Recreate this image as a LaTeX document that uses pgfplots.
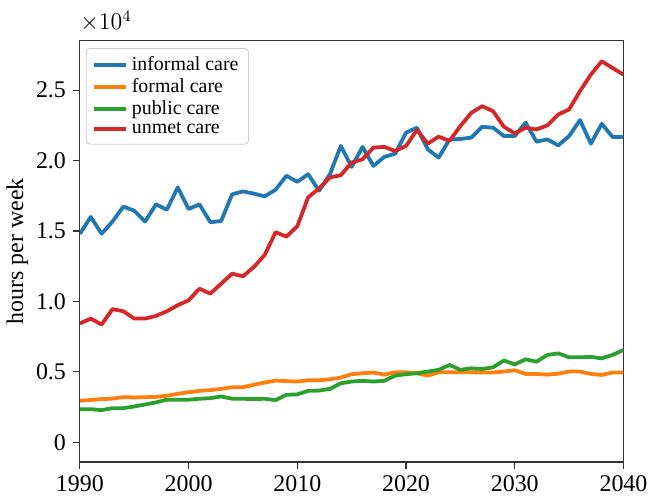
\documentclass[border=0pt]{standalone}
\usepackage{fontspec}
\setmainfont{Liberation Serif}
\usepackage{pgfplots}
\usepackage{pgfplotstable}
\pgfplotsset{compat=1.18}
\definecolor{tblue}{HTML}{1F77B4}
\definecolor{torange}{HTML}{FF7F0E}
\definecolor{tgreen}{HTML}{2CA02C}
\definecolor{tred}{HTML}{D62728}
\pgfplotstableread{
year informal formal public unmet
1990 1.48 0.295 0.235 0.843
1991 1.60 0.300 0.235 0.878
1992 1.48 0.306 0.228 0.836
1993 1.567 0.310 0.242 0.945
1994 1.673 0.320 0.242 0.930
1995 1.644 0.318 0.254 0.878
1996 1.567 0.320 0.268 0.878
1997 1.689 0.322 0.283 0.897
1998 1.651 0.330 0.302 0.930
1999 1.809 0.344 0.302 0.973
2000 1.656 0.355 0.302 1.008
2001 1.689 0.365 0.309 1.090
2002 1.562 0.370 0.313 1.055
2003 1.571 0.379 0.325 1.126
2004 1.760 0.391 0.309 1.197
2005 1.781 0.391 0.309 1.178
2006 1.765 0.408 0.306 1.244
2007 1.746 0.424 0.309 1.330
2008 1.793 0.438 0.299 1.491
2009 1.892 0.434 0.337 1.460
2010 1.849 0.431 0.340 1.534
2011 1.903 0.440 0.365 1.739
2012 1.786 0.440 0.367 1.802
2013 1.903 0.447 0.379 1.880
2014 2.104 0.459 0.419 1.896
2015 1.955 0.483 0.431 1.986
2016 2.097 0.490 0.436 2.009
2017 1.962 0.495 0.431 2.092
2018 2.026 0.480 0.436 2.097
2019 2.049 0.497 0.473 2.068
2020 2.198 0.497 0.483 2.104
2021 2.233 0.490 0.490 2.217
2022 2.080 0.473 0.502 2.120
2023 2.021 0.497 0.514 2.170
2024 2.150 0.497 0.549 2.139
2025 2.153 0.497 0.514 2.245
2026 2.163 0.497 0.525 2.339
2027 2.240 0.495 0.520 2.386
2028 2.233 0.495 0.532 2.351
2029 2.174 0.502 0.580 2.240
2030 2.174 0.511 0.553 2.193
2031 2.269 0.485 0.589 2.233
2032 2.134 0.485 0.572 2.221
2033 2.150 0.480 0.620 2.250
2034 2.108 0.487 0.631 2.327
2035 2.174 0.502 0.603 2.363
2036 2.287 0.502 0.603 2.493
2037 2.120 0.485 0.606 2.610
2038 2.261 0.478 0.596 2.705
2039 2.167 0.495 0.620 2.657
2040 2.167 0.495 0.655 2.610
}\datatable
\begin{document}
\begin{tikzpicture}
\begin{axis}[
  scale only axis,
  width=273pt, height=211.5pt,
  xmin=1990, xmax=2040,
  ymin=-0.14, ymax=2.85,
  xtick={1990,2000,2010,2020,2030,2040},
  ytick={0,0.5,1.0,1.5,2.0,2.5},
  yticklabels={0,0.5,1.0,1.5,2.0,2.5},
  x tick label style={/pgf/number format/1000 sep={}},
  /pgf/number format/assume math mode=true,
  tick label style={font=\fontsize{12}{14}\selectfont},
  tick align=outside,
  xtick pos=bottom, ytick pos=left,
  major tick length=3.5pt,
  axis line style={black!80, line width=0.6pt},
  tick style={black!80, line width=0.6pt},
  ylabel={hours per week},
  ylabel style={font=\fontsize{12}{14}\selectfont, yshift=-3pt},
  every axis plot/.append style={line width=1.9pt, line join=round},
  legend cell align=left,
  legend style={at={(0.011,0.983)}, anchor=north west,
    font=\fontsize{10}{11}\selectfont, draw=black!20, rounded corners=2pt,
    fill=white, row sep=-1.5pt, inner xsep=3pt, inner ysep=2pt},
  legend image code/.code={\draw[#1, line width=1.9pt] (0pt,0pt) -- (16pt,0pt);},
  clip=true,
]
\addplot[color=tblue] table[x=year, y=informal] {\datatable};
\addlegendentry{informal care}
\addplot[color=torange] table[x=year, y=formal] {\datatable};
\addlegendentry{formal care}
\addplot[color=tgreen] table[x=year, y=public] {\datatable};
\addlegendentry{public care}
\addplot[color=tred] table[x=year, y=unmet] {\datatable};
\addlegendentry{unmet care}
\end{axis}
\node[anchor=base west, inner sep=0pt, font=\fontsize{12}{14}\selectfont] at (0pt, 217pt) {$\times10^{4}$};
\path (0pt, 232pt);
\end{tikzpicture}
\end{document}
